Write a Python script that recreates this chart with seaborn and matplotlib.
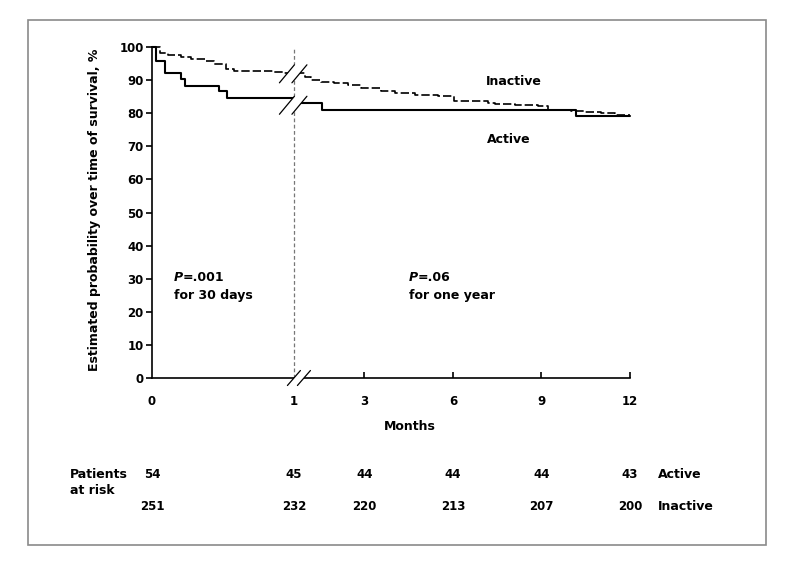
import numpy as np
import matplotlib
matplotlib.use("Agg")
import matplotlib.pyplot as plt
from matplotlib import transforms
from matplotlib.patches import Polygon, Rectangle
import seaborn as sns

# ---------------- data ----------------
active_t = [0, 0.030, 0.089, 0.206, 0.230, 0.47, 0.53, 1.0, 1.79, 10.18, 12]
active_v = [100, 95.9, 92.0, 90.4, 88.1, 86.6, 84.5, 83.0, 80.9, 79.2, 79.2]

inactive_t = [0, 0.054, 0.113, 0.206, 0.277, 0.371, 0.44, 0.52, 0.58, 0.75,
              0.86, 0.93, 1.30, 1.49, 1.77, 2.15, 2.53, 2.91, 3.57, 4.02,
              4.70, 5.49, 6.05, 7.18, 7.41, 8.09, 8.88, 9.22, 10.0, 10.46,
              11.02, 11.48, 12]
inactive_v = [100, 98.1, 97.6, 96.9, 96.4, 95.9, 94.8, 93.3, 92.8, 92.7,
              92.5, 92.0, 90.9, 90.1, 89.4, 89.1, 88.4, 87.6, 86.8, 86.0,
              85.5, 85.3, 83.7, 83.2, 82.7, 82.5, 82.2, 81.1, 80.6, 80.4,
              80.1, 79.6, 79.6]

x_ticks = [0, 1, 3, 6, 9, 12]
x_tick_labels = ["0", "1", "3", "6", "9", "12"]
y_ticks = list(range(0, 101, 10))

risk_times = [0, 1, 3, 6, 9, 12]
risk_active = [54, 45, 44, 44, 44, 43]
risk_inactive = [251, 232, 220, 213, 207, 200]

# ---------------- style ----------------
sns.set_theme(style="ticks")
plt.rcParams["font.family"] = ["DejaVu Sans"]
plt.rcParams["font.weight"] = "bold"
plt.rcParams["text.color"] = "black"
plt.rcParams["axes.edgecolor"] = "black"
plt.rcParams["axes.linewidth"] = 1.2

fig = plt.figure(figsize=(7.91, 5.82), dpi=100)
W, H = 791, 582
ax = fig.add_axes([152 / W, 1 - 378 / H, (630 - 152) / W, (378 - 47) / H])

sns.lineplot(x=inactive_t, y=inactive_v, drawstyle="steps-post", color="black",
             linewidth=1.2, linestyle=(0, (5, 1.8)), estimator=None, ax=ax)
sns.lineplot(x=active_t, y=active_v, drawstyle="steps-post", color="black",
             linewidth=1.5, estimator=None, ax=ax)
for ln in ax.lines:
    ln.set_clip_on(False)

# piecewise (broken) month scale
k1, k2 = 4.81, 7.2


def fwd(t):
    t = np.asarray(t, dtype=float)
    return np.where(t < 1, t * k1,
                    np.where(t < 3, k1 + (t - 1) * (k2 - k1) / 2, k2 + (t - 3)))


def inv(u):
    u = np.asarray(u, dtype=float)
    return np.where(u < k1, u / k1,
                    np.where(u < k2, 1 + (u - k1) * 2 / (k2 - k1), 3 + (u - k2)))


ax.set_xscale("function", functions=(fwd, inv))
ax.set_xlim(0, 12)
ax.set_ylim(0, 100)

ax.set_xticks(x_ticks)
ax.set_xticklabels(x_tick_labels)
ax.xaxis.set_minor_locator(matplotlib.ticker.NullLocator())
ax.set_yticks(y_ticks)
ax.tick_params(axis="y", direction="out", length=4.5, width=1.2, pad=1.5,
               labelsize=8.5, colors="black")
ax.tick_params(axis="x", direction="in", length=4, width=1.2, pad=12,
               labelsize=8.5, colors="black")
for tk in ax.xaxis.get_major_ticks()[:2]:
    tk.tick1line.set_visible(False)
for lab in ax.get_xticklabels() + ax.get_yticklabels():
    lab.set_fontweight("bold")
sns.despine(ax=ax)
ax.set_xlabel("")
ax.set_ylabel("")

# dashed vertical line at 30 days
ax.axvline(1, ymin=0, ymax=1, color="#777777", linewidth=0.9,
           linestyle=(0, (3, 2)), zorder=1)


# break marks
def break_marks(x, y, offs, dx, dy, lw=0.9):
    tr = fig.dpi_scale_trans + transforms.ScaledTranslation(x, y, ax.transData)
    (o1, o2) = offs
    pts = [((o1 - dx) / 100, -dy / 100), ((o1 + dx) / 100, dy / 100),
           ((o2 + dx) / 100, dy / 100), ((o2 - dx) / 100, -dy / 100)]
    ax.add_patch(Polygon(pts, closed=True, facecolor="white", edgecolor="none",
                         transform=tr, clip_on=False, zorder=5))
    for o in offs:
        ax.plot([(o - dx) / 100, (o + dx) / 100], [-dy / 100, dy / 100],
                color="black", linewidth=lw, transform=tr, clip_on=False,
                zorder=6)


break_marks(1, 0, (0, 10), 6.5, 7.5)
break_marks(1, 91.9, (-7, 5.5), 7.5, 9)
break_marks(1, 82.4, (-7, 5.5), 7.5, 9)

# annotations inside the plot
fs = 9
p1 = ax.text(0.153, 30.3, "P", fontsize=fs, fontweight="bold", fontstyle="italic",
             va="center", ha="left")
ax.annotate("=.001", xy=(1, 0), xycoords=p1, va="bottom", ha="left",
            fontsize=fs, fontweight="bold")
ax.text(0.153, 24.9, "for 30 days", fontsize=fs, fontweight="bold",
        va="center", ha="left")
p2 = ax.text(4.5, 30.3, "P", fontsize=fs, fontweight="bold", fontstyle="italic",
             va="center", ha="left")
ax.annotate("=.06", xy=(1, 0), xycoords=p2, va="bottom", ha="left",
            fontsize=fs, fontweight="bold")
ax.text(4.5, 24.9, "for one year", fontsize=fs, fontweight="bold",
        va="center", ha="left")
ax.text(7.12, 89.6, "Inactive", fontsize=fs, fontweight="bold", va="center", ha="left")
ax.text(7.15, 72.2, "Active", fontsize=fs, fontweight="bold", va="center", ha="left")

# axis titles
fig.text(410 / W, 1 - 426 / H, "Months", fontsize=fs, fontweight="bold",
         ha="center", va="center")
fig.text(95 / W, 1 - 210 / H, "Estimated probability over time of survival, %",
         fontsize=fs, fontweight="bold", rotation=90, ha="center", va="center")

# patients at risk table
blend = transforms.blended_transform_factory(ax.transData, fig.transFigure)
y_act = 1 - 474 / H
y_inact = 1 - 507 / H
for t, a, i in zip(risk_times, risk_active, risk_inactive):
    ax.text(t, y_act, str(a), transform=blend, fontsize=8.5, fontweight="bold",
            ha="center", va="center", clip_on=False)
    ax.text(t, y_inact, str(i), transform=blend, fontsize=8.5, fontweight="bold",
            ha="center", va="center", clip_on=False)
fig.text(70 / W, y_act, "Patients", fontsize=fs, fontweight="bold", ha="left", va="center")
fig.text(70 / W, 1 - 491 / H, "at risk", fontsize=fs, fontweight="bold", ha="left", va="center")
fig.text(658 / W, y_act, "Active", fontsize=fs, fontweight="bold", ha="left", va="center")
fig.text(658 / W, y_inact, "Inactive", fontsize=fs, fontweight="bold", ha="left", va="center")

# outer frame
fig.patches.append(Rectangle((28 / W, 1 - 545 / H), 738 / W, 525 / H,
                             transform=fig.transFigure, fill=False,
                             edgecolor="#8a8a8a", linewidth=1.2))

fig.savefig("out.png", dpi=100)
